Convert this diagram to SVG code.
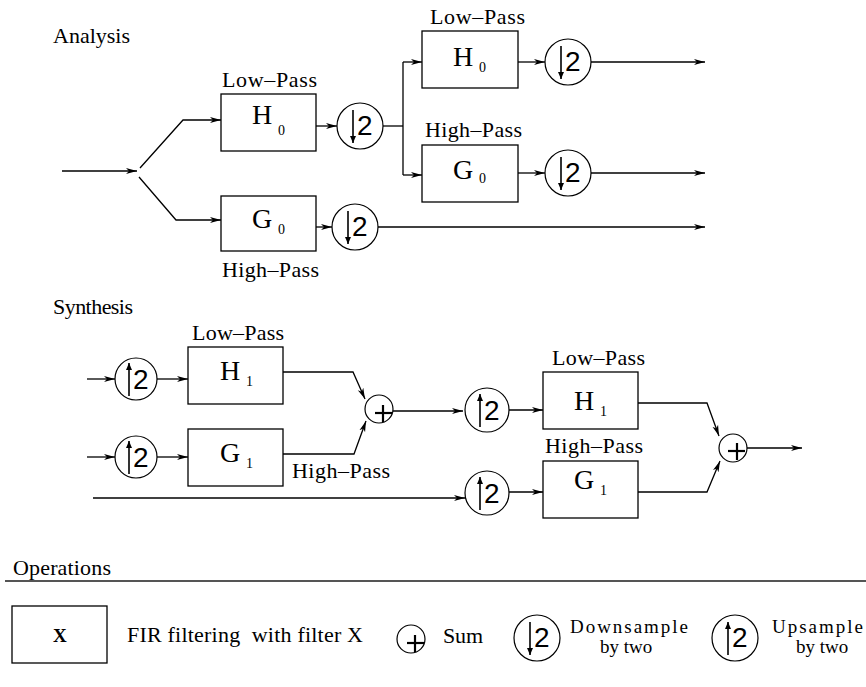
<svg xmlns="http://www.w3.org/2000/svg" width="866" height="687" viewBox="0 0 866 687">
<style>
.t{font-family:"Liberation Serif","Times New Roman",serif;fill:#000}
.lbl{font-size:22px}
.hd{font-size:22px}
.big{font-size:28px}
.sub{font-size:14px}
.leg{font-size:19px}
.two{font-family:"Liberation Sans",Arial,sans-serif;font-size:28px;fill:#000}
.box{fill:#fff;stroke:#000;stroke-width:1.3}
.circ{fill:#fff;stroke:#000;stroke-width:1.2}
.ln{fill:none;stroke:#000;stroke-width:1.3}
.inar{stroke:#000;stroke-width:1.6}
.plus{stroke:#000;stroke-width:2.2}
</style>
<defs>
<marker id="ah" markerUnits="userSpaceOnUse" markerWidth="12" markerHeight="8" refX="11" refY="4" orient="auto">
<path d="M0,1 L11,4 L0,7 L3,4 z" fill="#000"/>
</marker>
<marker id="ahs" markerUnits="userSpaceOnUse" markerWidth="8" markerHeight="8" refX="7" refY="3" orient="auto">
<path d="M0,0 L7,3 L0,6 z" fill="#000"/>
</marker>
</defs>
<rect width="866" height="687" fill="#fff"/>

<text class="t hd" x="53" y="43" textLength="77">Analysis</text>
<text class="t hd" x="53" y="314" textLength="80">Synthesis</text>

<g id="connectors">
<line class="ln" x1="62" y1="171" x2="137" y2="171" marker-end="url(#ah)"/>
<polyline class="ln" points="140,168 183,120 221,120" marker-end="url(#ah)"/>
<polyline class="ln" points="139,177 176,220 221,220" marker-end="url(#ah)"/>
<line class="ln" x1="316" y1="126" x2="337" y2="126" marker-end="url(#ah)"/>
<line class="ln" x1="383" y1="126" x2="403" y2="126"/>
<line class="ln" x1="403" y1="62" x2="403" y2="175"/>
<line class="ln" x1="403" y1="62" x2="422" y2="62" marker-end="url(#ah)"/>
<line class="ln" x1="403" y1="175" x2="422" y2="175" marker-end="url(#ah)"/>
<line class="ln" x1="316" y1="227" x2="332" y2="227" marker-end="url(#ah)"/>
<line class="ln" x1="378" y1="227" x2="705" y2="227" marker-end="url(#ah)"/>
<line class="ln" x1="518" y1="62" x2="545" y2="62" marker-end="url(#ah)"/>
<line class="ln" x1="591" y1="62" x2="705" y2="62" marker-end="url(#ah)"/>
<line class="ln" x1="518" y1="173" x2="545" y2="173" marker-end="url(#ah)"/>
<line class="ln" x1="591" y1="173" x2="705" y2="173" marker-end="url(#ah)"/>
<line class="ln" x1="87" y1="379" x2="115" y2="379" marker-end="url(#ah)"/>
<line class="ln" x1="157" y1="379" x2="188" y2="379" marker-end="url(#ah)"/>
<line class="ln" x1="87" y1="457" x2="115" y2="457" marker-end="url(#ah)"/>
<line class="ln" x1="157" y1="457" x2="188" y2="457" marker-end="url(#ah)"/>
<polyline class="ln" points="283,372 353,372 365,399" marker-end="url(#ah)"/>
<polyline class="ln" points="283,454 354,454 366,421" marker-end="url(#ah)"/>
<line class="ln" x1="393" y1="411" x2="463" y2="411" marker-end="url(#ah)"/>
<line class="ln" x1="509" y1="410" x2="543" y2="410" marker-end="url(#ah)"/>
<line class="ln" x1="93" y1="498" x2="465" y2="498" marker-end="url(#ah)"/>
<line class="ln" x1="509" y1="492" x2="543" y2="492" marker-end="url(#ah)"/>
<polyline class="ln" points="638,403 707,403 719,436" marker-end="url(#ah)"/>
<polyline class="ln" points="638,492 707,492 720,461" marker-end="url(#ah)"/>
<line class="ln" x1="747" y1="448" x2="802" y2="448" marker-end="url(#ah)"/>
</g>

<g id="H0a">
<text class="t lbl" x="222" y="87" textLength="95">Low–Pass</text>
<rect class="box" x="221" y="94" width="95" height="57"/>
<text class="t big" x="252" y="124">H</text><text class="t sub" x="278" y="135">0</text>
</g>
<g id="G0a">
<rect class="box" x="221" y="196" width="95" height="55"/>
<text class="t big" x="252" y="228">G</text><text class="t sub" x="278" y="234">0</text>
<text class="t lbl" x="222" y="277" textLength="97">High–Pass</text>
</g>
<g id="D1">
<circle class="circ" cx="360" cy="126" r="23"/>
<line class="inar" x1="353" y1="110" x2="353" y2="143" marker-end="url(#ahs)"/>
<text class="two" x="357" y="135">2</text>
</g>
<g id="D2">
<circle class="circ" cx="355" cy="227" r="23"/>
<line class="inar" x1="348" y1="211" x2="348" y2="244" marker-end="url(#ahs)"/>
<text class="two" x="352" y="236">2</text>
</g>
<g id="H0b">
<text class="t lbl" x="430" y="24" textLength="95">Low–Pass</text>
<rect class="box" x="422" y="31" width="96" height="57"/>
<text class="t big" x="453" y="66">H</text><text class="t sub" x="479" y="72">0</text>
</g>
<g id="D3">
<circle class="circ" cx="568" cy="62" r="23"/>
<line class="inar" x1="561" y1="46" x2="561" y2="79" marker-end="url(#ahs)"/>
<text class="two" x="565" y="71">2</text>
</g>
<g id="G0b">
<text class="t lbl" x="425" y="137" textLength="97">High–Pass</text>
<rect class="box" x="422" y="145" width="96" height="57"/>
<text class="t big" x="453" y="179">G</text><text class="t sub" x="479" y="183">0</text>
</g>
<g id="D4">
<circle class="circ" cx="568" cy="173" r="23"/>
<line class="inar" x1="561" y1="157" x2="561" y2="190" marker-end="url(#ahs)"/>
<text class="two" x="565" y="182">2</text>
</g>

<g id="U1">
<circle class="circ" cx="136" cy="379" r="21"/>
<line class="inar" x1="129" y1="396" x2="129" y2="363" marker-end="url(#ahs)"/>
<text class="two" x="133" y="389">2</text>
</g>
<g id="U2">
<circle class="circ" cx="136" cy="457" r="21"/>
<line class="inar" x1="129" y1="474" x2="129" y2="441" marker-end="url(#ahs)"/>
<text class="two" x="133" y="467">2</text>
</g>
<g id="H1a">
<text class="t lbl" x="192" y="340" textLength="92">Low–Pass</text>
<rect class="box" x="188" y="347" width="95" height="57"/>
<text class="t big" x="220" y="380">H</text><text class="t sub" x="246" y="386">1</text>
</g>
<g id="G1a">
<rect class="box" x="188" y="429" width="95" height="57"/>
<text class="t big" x="220" y="462">G</text><text class="t sub" x="246" y="468">1</text>
<text class="t lbl" x="292" y="478" textLength="98">High–Pass</text>
</g>
<g id="S1">
<circle class="circ" cx="379" cy="409" r="14"/>
<line class="plus" x1="375" y1="413" x2="392" y2="413"/>
<line class="plus" x1="383" y1="405" x2="383" y2="422"/>
</g>
<g id="U3">
<circle class="circ" cx="487" cy="410" r="22"/>
<line class="inar" x1="480" y1="427" x2="480" y2="394" marker-end="url(#ahs)"/>
<text class="two" x="484" y="420">2</text>
</g>
<g id="U4">
<circle class="circ" cx="487" cy="493" r="22"/>
<line class="inar" x1="480" y1="510" x2="480" y2="477" marker-end="url(#ahs)"/>
<text class="two" x="484" y="503">2</text>
</g>
<g id="H1b">
<text class="t lbl" x="552" y="365" textLength="93">Low–Pass</text>
<rect class="box" x="543" y="372" width="95" height="57"/>
<text class="t big" x="574" y="410">H</text><text class="t sub" x="600" y="416">1</text>
</g>
<g id="G1b">
<text class="t lbl" x="545" y="453" textLength="98">High–Pass</text>
<rect class="box" x="543" y="461" width="95" height="57"/>
<text class="t big" x="574" y="489">G</text><text class="t sub" x="600" y="495">1</text>
</g>
<g id="S2">
<circle class="circ" cx="733" cy="448" r="14"/>
<line class="plus" x1="728" y1="451" x2="745" y2="451"/>
<line class="plus" x1="737" y1="443" x2="737" y2="460"/>
</g>

<g id="legend">
<text class="t hd" x="13" y="575" textLength="98">Operations</text>
<line x1="5" y1="581" x2="866" y2="581" stroke="#555" stroke-width="2"/>
<rect class="box" x="12" y="606" width="95" height="57"/>
<text class="t" x="53" y="642" font-size="19" font-weight="bold">X</text>
<text class="t lbl" x="127" y="642" textLength="236" xml:space="preserve">FIR filtering  with filter X</text>
<circle class="circ" cx="411" cy="639" r="14"/>
<line class="plus" x1="407" y1="643" x2="424" y2="643"/>
<line class="plus" x1="415" y1="635" x2="415" y2="652"/>
<text class="t lbl" x="443" y="643" textLength="40">Sum</text>
<circle class="circ" cx="537" cy="638" r="23"/>
<line class="inar" x1="530" y1="622" x2="530" y2="655" marker-end="url(#ahs)"/>
<text class="two" x="534" y="647">2</text>
<text class="t leg" x="570" y="633" textLength="118">Downsample</text>
<text class="t leg" x="626" y="653" text-anchor="middle">by two</text>
<circle class="circ" cx="735" cy="638" r="23"/>
<line class="inar" x1="728" y1="655" x2="728" y2="622" marker-end="url(#ahs)"/>
<text class="two" x="732" y="647">2</text>
<text class="t leg" x="772" y="633" textLength="91">Upsample</text>
<text class="t leg" x="822" y="653" text-anchor="middle">by two</text>
</g>
</svg>
